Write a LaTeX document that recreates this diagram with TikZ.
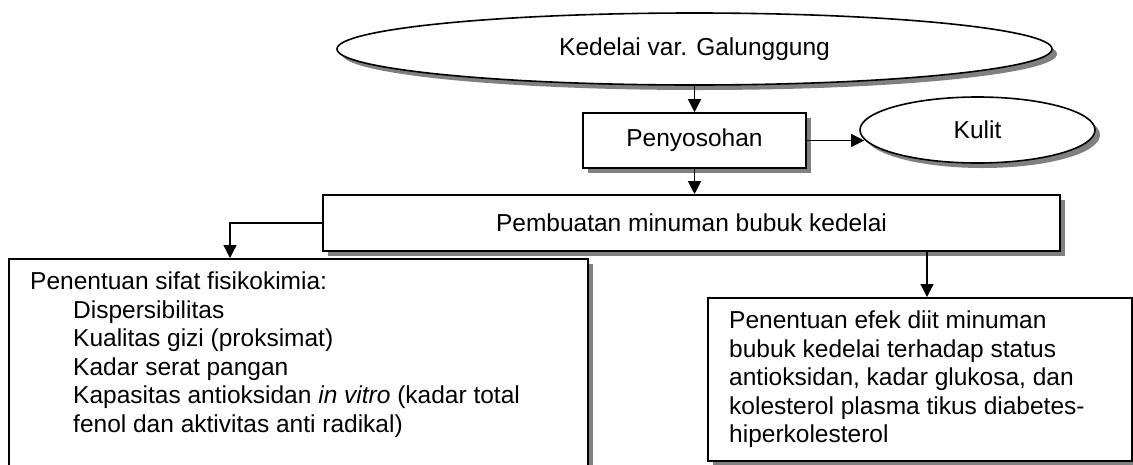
\documentclass[tikz,border=0pt]{standalone}
\usepackage{fontspec}
\setmainfont{Liberation Sans}
\usetikzlibrary{shapes.geometric,shadows,arrows.meta}
\begin{document}
\begin{tikzpicture}[x=1pt,y=-1pt,
  every node/.style={font=\fontsize{24.5}{28.5}\selectfont},
  shad/.style={drop shadow={shadow xshift=5pt,shadow yshift=-5pt,fill=black!50,opacity=1}},
  box/.style={draw,line width=1.6pt,fill=white,rectangle,inner sep=0pt,shad},
  oval/.style={draw,ellipse,line width=1.6pt,fill=white,inner sep=0pt,shad},
  arr/.style={line width=1.3pt,-{Triangle[width=13pt,length=13pt]}},
  txt/.style={align=left,inner sep=0pt,anchor=north west}
]
\useasboundingbox (0,0) rectangle (1133,464);
\clip (0,0) rectangle (1133,464);

\node[oval,minimum width=715pt,minimum height=72pt] (src) at (694.5,49) {Kedelai var. Galunggung};
\node[box,minimum width=223pt,minimum height=55pt] (peny) at (694.5,140.5) {Penyosohan};
\node[oval,minimum width=235pt,minimum height=66pt] (kulit) at (977.5,130) {Kulit};
\node[box,minimum width=737pt,minimum height=56pt] (pemb) at (691.5,223) {Pembuatan minuman bubuk kedelai};
\node[box,anchor=north west,minimum width=579pt,minimum height=260pt] (fis) at (8,258) {};
\node[box,anchor=north west,minimum width=424pt,minimum height=163pt] (efek) at (707,297) {};

\node[txt] (fistext) at (30,272) {Penentuan sifat fisikokimia:\\
\hspace*{43pt}Dispersibilitas\\
\hspace*{43pt}Kualitas gizi (proksimat)\\
\hspace*{43pt}Kadar serat pangan\\
\hspace*{43pt}Kapasitas antioksidan \textit{in vitro} (kadar total\\
\hspace*{43pt}fenol dan aktivitas anti radikal)};
\node[txt] (efektext) at (729,311) {Penentuan efek diit minuman\\
bubuk kedelai terhadap status\\
antioksidan, kadar glukosa, dan\\
kolesterol plasma tikus diabetes-\\
hiperkolesterol};

\coordinate (lt) at ([xshift=222pt]fis.north west);
\coordinate (rt) at ([xshift=220pt]efek.north west);
\draw[arr] (src) -- (peny);
\draw[arr] (peny.south) -- (peny.south |- pemb.north);
\draw[arr] (peny.east) -- ([xshift=5pt]kulit.west |- peny.east);
\draw[arr] (pemb.west) -| (lt);
\draw[arr] (pemb.south -| rt) -- (rt);
\end{tikzpicture}
\end{document}
